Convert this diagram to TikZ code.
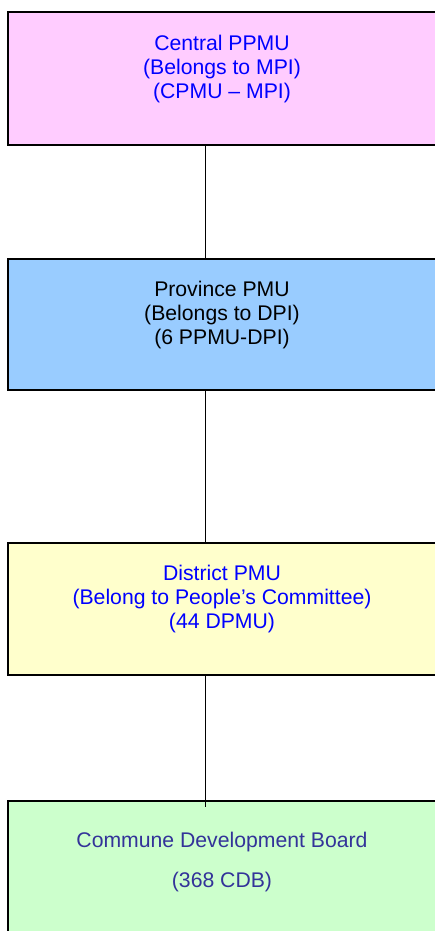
\documentclass[tikz,border=0pt]{standalone}
\usepackage{fontspec}
\setmainfont{Liberation Sans}
\definecolor{pinkfill}{HTML}{FFCCFF}
\definecolor{bluefill}{HTML}{99CCFF}
\definecolor{yellowfill}{HTML}{FFFFCC}
\definecolor{greenfill}{HTML}{CCFFCC}
\definecolor{navytext}{HTML}{333399}
\definecolor{puretext}{HTML}{0000FF}
\begin{document}
\begin{tikzpicture}[x=1pt,y=-1pt,
  unitbox/.style={draw=black, line width=1.8pt, rectangle, inner sep=0pt, anchor=north west, minimum width=430pt},
  label/.style={font=\fontsize{21.2}{24}\selectfont, align=center, inner sep=0pt, anchor=center},
  link/.style={draw=black, line width=1.3pt}]
\useasboundingbox (0,0) rectangle (435,931);
\begin{scope}
\clip (0,0) rectangle (435,931);
\node[unitbox, fill=pinkfill, minimum height=133pt] (b1) at (7,11) {};
\node[unitbox, fill=bluefill, minimum height=131pt] (b2) at (7,258) {};
\node[unitbox, fill=yellowfill, minimum height=132pt] (b3) at (7,542) {};
\node[unitbox, fill=greenfill, minimum height=150pt] (b4) at (7,800) {};
\end{scope}
\node[label, text=puretext] (t1) at (222,68.8) {Central PPMU\\(Belongs to MPI)\\(CPMU -- MPI)};
\node[label, text=black] (t2) at (222,314.8) {Province PMU\\(Belongs to DPI)\\(6 PPMU-DPI)};
\node[label, text=puretext] (t3) at (222,598.8) {District PMU\\(Belong to People’s Committee)\\(44 DPMU)};
\node[label, text=navytext] (t4) at (222,861.8) {Commune Development Board\\[16pt](368 CDB)};
\draw[link] ([xshift=-17.5pt]b1.south) -- ([xshift=-17.5pt]b2.north);
\draw[link] ([xshift=-17.5pt]b2.south) -- ([xshift=-17.5pt]b3.north);
\draw[link] ([xshift=-17.5pt]b3.south) -- ([xshift=-17.5pt,yshift=-7pt]b4.north);
\end{tikzpicture}
\end{document}
